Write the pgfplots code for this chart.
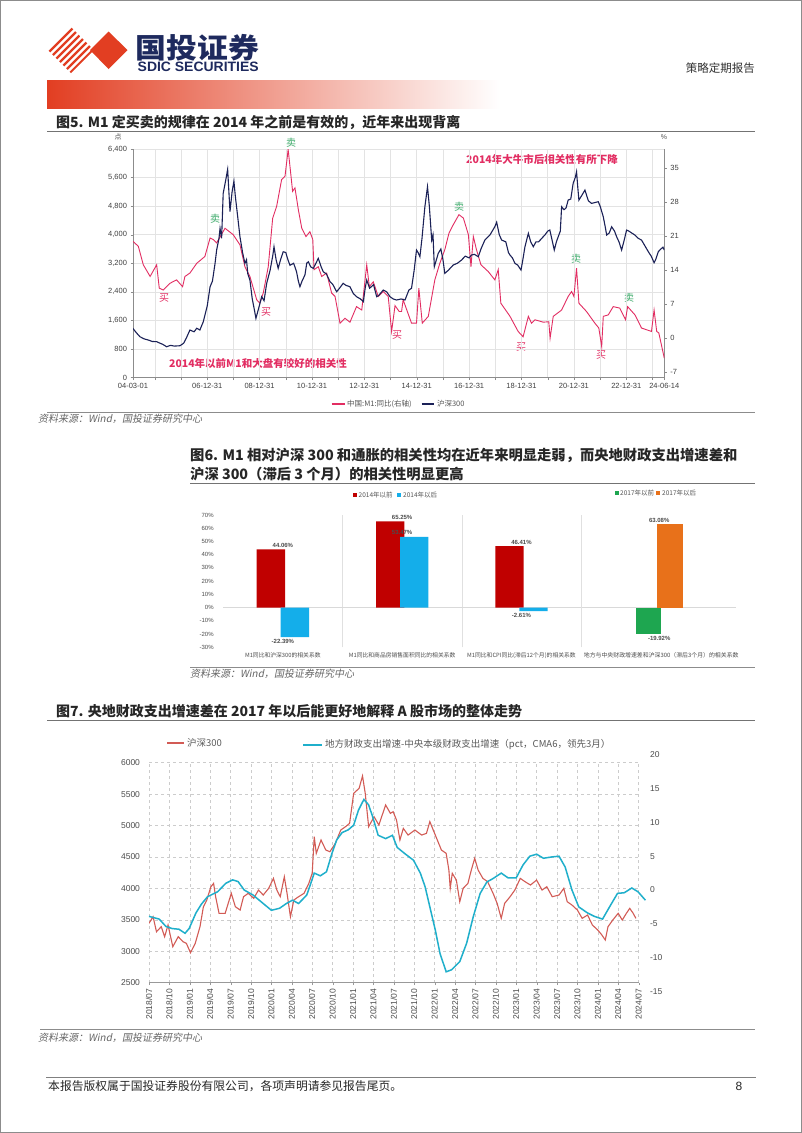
\documentclass[border=0pt]{standalone}
\usepackage{fontspec}
\setmainfont{Liberation Sans}
\newfontfamily\cjk{Noto Sans CJK SC}
\newfontfamily\cjksl{Noto Sans CJK SC}[FakeSlant=0.2]
\usepackage{graphicx}
\usepackage{pgfplots}
\pgfplotsset{compat=1.18}
\newcommand{\fs}[1]{\fontsize{#1}{#1}\selectfont}
\definecolor{logored}{HTML}{E23E22}
\definecolor{logonavy}{HTML}{1E2A5E}
\definecolor{m1red}{HTML}{E22D62}
\definecolor{csi}{HTML}{1B2157}
\definecolor{sellg}{HTML}{3DAA6A}
\definecolor{c6red}{HTML}{C00000}
\definecolor{c6blue}{HTML}{14AEEA}
\definecolor{c6green}{HTML}{1EA650}
\definecolor{c6orange}{HTML}{E8711A}
\definecolor{c7red}{HTML}{D25B55}
\definecolor{c7cyan}{HTML}{1FAFCB}
\definecolor{txt}{HTML}{555555}
\begin{document}
\begin{tikzpicture}
\path[fill=white] (0pt,0pt) rectangle (802pt,-1133pt);
\draw[black!45, line width=1pt] (0.5pt,-0.5pt) rectangle (801.5pt,-1132.5pt);
\begin{scope}[x=1pt,y=-1pt]
% logo
\begin{scope}
\clip (48,50) -- (71,27) -- (94,50) -- (71,73) -- cycle;
\foreach \a in {0,7,...,112} {\draw[logored, line width=2.4] (\a,80) -- (\a+60,20);}
\end{scope}
\fill[logored] (90,50) -- (108.5,31.5) -- (127.5,50) -- (108.5,69) -- cycle;
\node[anchor=base west, inner sep=0, font=\cjk\bfseries\fs{28}, text=logonavy] at (135.5,58) {\scalebox{1.1}[1]{国投证券}};
\node[anchor=west, inner sep=0, text=logonavy] at (137.5,67) {\resizebox{121pt}{9.5pt}{\bfseries SDIC SECURITIES}};
\node[anchor=east, inner sep=0, font=\cjk\fs{11.5}, text=black!80] at (755,68) {策略定期报告};
\shade[left color=logored, right color=white] (47,80) rectangle (500,108);
% titles and rules
\node[anchor=west, inner sep=0, font=\cjk\bfseries\fs{14}, text=black!85] at (56,122) {图5. M1 定买卖的规律在 2014 年之前是有效的，近年来出现背离};
\draw[black!55, line width=1.2] (47,131.5) -- (755,131.5);
\draw[black!45, line width=1] (47,412) -- (755,412);
\node[anchor=west, inner sep=0, font=\cjksl\fs{10}, text=black!60] at (38,419) {资料来源：Wind，国投证券研究中心};
\node[anchor=west, inner sep=0, font=\cjk\bfseries\fs{14.3}, text=black!85] at (190,455) {图6. M1 相对沪深 300 和通胀的相关性均在近年来明显走弱，而央地财政支出增速差和};
\node[anchor=west, inner sep=0, font=\cjk\bfseries\fs{14.3}, text=black!85] at (190,474.5) {沪深 300（滞后 3 个月）的相关性明显更高};
\draw[black!55, line width=1.2] (190,483.5) -- (755,483.5);
\draw[black!45, line width=1] (190,667.5) -- (755,667.5);
\node[anchor=west, inner sep=0, font=\cjksl\fs{10}, text=black!60] at (190,673.5) {资料来源：Wind，国投证券研究中心};
\node[anchor=west, inner sep=0, font=\cjk\bfseries\fs{14}, text=black!85] at (56,711) {图7. 央地财政支出增速差在 2017 年以后能更好地解释 A 股市场的整体走势};
\draw[black!55, line width=1.2] (47,720.5) -- (755,720.5);
\draw[black!45, line width=1] (40,1029.5) -- (755,1029.5);
\node[anchor=west, inner sep=0, font=\cjksl\fs{10}, text=black!60] at (38,1037.5) {资料来源：Wind，国投证券研究中心};
\draw[black!50, line width=1.3] (46,1077.5) -- (756,1077.5);
\node[anchor=west, inner sep=0, font=\cjk\fs{11.8}, text=black!85] at (48,1086) {本报告版权属于国投证券股份有限公司，各项声明请参见报告尾页。};
\node[inner sep=0, font=\fs{12}, text=black!85] at (739,1086) {8};
% chart 5 decorations
\node[inner sep=0, font=\cjk\fs{7}, text=txt] at (118,137) {点};
\node[inner sep=0, font=\fs{7}, text=txt] at (664,137) {\%};
\foreach \p in {(291,143),(215,219),(459,207),(576,259),(629,298)} {\node[inner sep=0, font=\cjk\fs{10}, text=sellg] at \p {卖};}
\foreach \p in {(164,298),(266,312),(397,335),(521,347),(601,355)} {\node[inner sep=0, font=\cjk\fs{10}, text=m1red] at \p {买};}
\node[inner sep=0, font=\cjk\bfseries\fs{10.5}, text=m1red] at (542,159) {2014年大牛市后相关性有所下降};
\node[inner sep=0, font=\cjk\bfseries\fs{10.5}, text=m1red] at (258,363) {2014年以前M1和大盘有较好的相关性};
\draw[m1red, line width=1.2] (331.5,404) -- (345,404);
\node[anchor=west, inner sep=0, font=\cjk\fs{7.5}, text=txt] at (347,404) {中国:M1:同比(右轴)};
\draw[csi, line width=1.4] (421.5,404) -- (434,404);
\node[anchor=west, inner sep=0, font=\cjk\fs{7.5}, text=txt] at (436.8,404) {沪深300};
% chart 6 legends
\fill[c6red] (353,492.7) rectangle +(4,4);
\node[anchor=west, inner sep=0, font=\cjk\fs{6.5}, text=txt] at (358.5,494.7) {2014年以前};
\fill[c6blue] (397.3,492.7) rectangle +(4,4);
\node[anchor=west, inner sep=0, font=\cjk\fs{6.5}, text=txt] at (403,494.7) {2014年以后};
\fill[c6green] (614.6,491) rectangle +(4,4);
\node[anchor=west, inner sep=0, font=\cjk\fs{6.5}, text=txt] at (620,493) {2017年以前};
\fill[c6orange] (656.4,491) rectangle +(4,4);
\node[anchor=west, inner sep=0, font=\cjk\fs{6.5}, text=txt] at (662,493) {2017年以后};
% chart 7 legend
\draw[c7red, line width=1.5] (167,743) -- (184,743);
\node[anchor=west, inner sep=0, font=\cjk\fs{9.5}, text=black!65] at (187,743) {沪深300};
\draw[c7cyan, line width=1.8] (303,745) -- (322,745);
\node[anchor=west, inner sep=0, font=\cjk\fs{9.5}, text=black!65] at (325,745) {地方财政支出增速-中央本级财政支出增速（pct，CMA6，领先3月）};
\end{scope}

% ================= Chart 5 =================
\begin{axis}[at={(133pt,-377.5pt)}, anchor=south west, scale only axis, width=531.3pt, height=228.5pt,
 xmin=2004.167, xmax=2024.45, ymin=0, ymax=6400,
 axis x line*=bottom, axis y line*=left,
 axis line style={draw=black!45, line width=0.6pt},
 ytick={0,800,...,6400}, scaled y ticks=false,
 xtick={2005,...,2024},
 xticklabels={{},{},06-12-31,{},08-12-31,{},10-12-31,{},12-12-31,{},14-12-31,{},16-12-31,{},18-12-31,{},20-12-31,{},22-12-31,{}},
 extra x ticks={2004.167,2024.45}, extra x tick labels={04-03-01,24-06-14}, extra x tick style={grid=none},
 grid=major, major grid style={draw=black!11, line width=0.5pt},
 tick align=outside, major tick length=2.5pt, tick style={draw=black!45},
 tick label style={font=\fs{7.5}, text=black!75},
 /pgf/number format/assume math mode=true]
\end{axis}
\begin{axis}[at={(133pt,-377.5pt)}, anchor=south west, scale only axis, width=531.3pt, height=228.5pt,
 xmin=2004.167, xmax=2024.45, ymin=-8.07, ymax=38.9,
 axis x line=none, axis y line*=right,
 axis line style={draw=black!45, line width=0.6pt},
 ytick={-7,0,...,35},
 tick align=outside, major tick length=2.5pt, tick style={draw=black!45},
 tick label style={font=\fs{7.5}, text=black!75},
 /pgf/number format/assume math mode=true]
\addplot[m1red, line width=0.9pt] coordinates {
(2004.17,19.9)(2004.37,18.9)(2004.56,15.1)(2004.82,12.7)(2005.07,15.1)(2005.17,10.3)(2005.32,9.9)(2005.58,11.3)(2005.83,12.0)(2006.06,10.6)(2006.15,12.7)(2006.34,13.4)(2006.60,15.4)(2006.91,16.8)(2007.11,20.6)(2007.23,20.3)(2007.36,19.6)(2007.68,22.6)(2007.99,21.3)(2008.25,19.2)(2008.44,14.7)(2008.63,12.7)(2008.89,7.9)(2009.01,7.2)(2009.14,9.3)(2009.33,14.7)(2009.50,24.7)(2009.65,27.1)(2009.84,32.6)(2009.97,33.3)(2010.09,38.8)(2010.16,35.3)(2010.26,30.2)(2010.35,30.9)(2010.48,26.4)(2010.61,22.6)(2010.77,20.9)(2010.92,21.9)(2011.03,20.3)(2011.08,14.1)(2011.24,14.7)(2011.37,12.7)(2011.56,13.4)(2011.75,9.3)(2011.88,8.6)(2012.07,3.1)(2012.26,4.1)(2012.45,3.3)(2012.70,6.5)(2012.90,5.8)(2013.09,15.1)(2013.19,10.6)(2013.34,11.6)(2013.53,8.6)(2013.72,9.6)(2013.91,8.6)(2014.04,1.4)(2014.17,6.7)(2014.33,5.5)(2014.42,5.5)(2014.48,7.9)(2014.80,3.1)(2014.99,3.1)(2015.08,10.3)(2015.21,3.1)(2015.44,4.5)(2015.69,12.0)(2015.88,15.4)(2016.07,18.2)(2016.23,21.6)(2016.39,23.3)(2016.61,25.4)(2016.78,24.7)(2016.97,21.3)(2017.07,14.7)(2017.16,20.9)(2017.28,18.2)(2017.45,15.1)(2017.73,13.7)(2017.98,12.0)(2018.11,14.1)(2018.21,7.2)(2018.56,4.5)(2018.87,1.4)(2019.06,0.3)(2019.26,4.5)(2019.38,3.1)(2019.51,3.8)(2019.83,3.3)(2020.04,3.4)(2020.09,0.0)(2020.21,4.5)(2020.53,5.8)(2020.78,8.6)(2020.91,9.6)(2021.00,8.6)(2021.10,14.4)(2021.19,7.2)(2021.48,5.5)(2021.80,3.1)(2021.95,2.1)(2022.06,-1.7)(2022.12,4.5)(2022.31,4.8)(2022.50,6.5)(2022.75,6.2)(2022.97,3.8)(2023.05,6.5)(2023.33,4.8)(2023.58,2.1)(2023.96,1.4)(2024.06,5.8)(2024.16,1.4)(2024.24,1.1)(2024.45,-4.1)};
\end{axis}
\begin{axis}[at={(133pt,-377.5pt)}, anchor=south west, scale only axis, width=531.3pt, height=228.5pt,
 xmin=2004.167, xmax=2024.45, ymin=0, ymax=6400, hide axis]
\addplot[csi, line width=1.1pt] coordinates {
(2004.16,1378)(2004.30,1250)(2004.43,1143)(2004.60,1080)(2004.75,1050)(2004.90,1010)(2005.07,1003)(2005.20,960)(2005.30,930)(2005.45,862)(2005.60,900)(2005.75,880)(2005.96,890)(2006.10,960)(2006.20,1100)(2006.34,1330)(2006.50,1280)(2006.60,1380)(2006.72,1330)(2006.85,1562)(2007.00,2000)(2007.11,2543)(2007.20,2700)(2007.30,3200)(2007.36,3570)(2007.45,3900)(2007.49,4177)(2007.55,3900)(2007.61,5157)(2007.70,5500)(2007.78,5830)(2007.82,5300)(2007.87,4650)(2007.95,5200)(2008.02,5500)(2008.07,5100)(2008.12,4783)(2008.18,4400)(2008.25,3943)(2008.35,3500)(2008.44,3197)(2008.50,3300)(2008.55,2900)(2008.63,2730)(2008.72,2200)(2008.80,1900)(2008.86,1657)(2008.95,1900)(2009.08,2263)(2009.17,2150)(2009.27,2637)(2009.40,3000)(2009.50,3400)(2009.55,3663)(2009.63,3300)(2009.71,3057)(2009.80,3300)(2009.90,3523)(2010.00,3500)(2010.08,3300)(2010.16,3143)(2010.30,3200)(2010.41,2963)(2010.48,2700)(2010.54,2543)(2010.62,2700)(2010.73,2870)(2010.80,3200)(2010.86,3243)(2010.95,3100)(2011.05,3057)(2011.15,3200)(2011.24,3337)(2011.35,3100)(2011.43,2963)(2011.55,2900)(2011.69,2683)(2011.80,2600)(2011.94,2403)(2012.05,2500)(2012.19,2637)(2012.30,2580)(2012.45,2543)(2012.58,2350)(2012.70,2263)(2012.85,2200)(2012.96,2123)(2013.03,2500)(2013.09,2730)(2013.20,2500)(2013.35,2600)(2013.47,2263)(2013.55,2300)(2013.72,2450)(2013.85,2400)(2013.98,2263)(2014.10,2200)(2014.23,2170)(2014.40,2200)(2014.55,2170)(2014.70,2450)(2014.80,2500)(2014.90,3000)(2014.99,3570)(2015.05,3500)(2015.12,3383)(2015.20,3900)(2015.31,4783)(2015.41,5343)(2015.48,4800)(2015.57,3850)(2015.62,4000)(2015.67,3103)(2015.75,3300)(2015.82,3477)(2015.92,3600)(2016.00,3300)(2016.07,2917)(2016.20,3000)(2016.39,3150)(2016.55,3200)(2016.71,3290)(2016.85,3400)(2017.00,3350)(2017.09,3430)(2017.20,3450)(2017.35,3383)(2017.45,3600)(2017.60,3850)(2017.80,4000)(2017.98,4223)(2018.05,4350)(2018.15,4000)(2018.24,3850)(2018.40,3800)(2018.50,3500)(2018.56,3430)(2018.65,3350)(2018.75,3197)(2018.85,3150)(2018.98,3010)(2019.05,3300)(2019.13,3663)(2019.26,4037)(2019.35,3800)(2019.45,3663)(2019.55,3800)(2019.65,3800)(2019.77,3897)(2019.90,4000)(2020.00,4100)(2020.08,4130)(2020.15,3900)(2020.25,3570)(2020.33,3800)(2020.40,3943)(2020.48,4100)(2020.53,4783)(2020.62,4700)(2020.70,4750)(2020.78,4970)(2020.88,5000)(2020.97,5437)(2021.05,5600)(2021.10,5763)(2021.15,5300)(2021.19,4970)(2021.30,5100)(2021.42,5250)(2021.55,4950)(2021.67,4877)(2021.80,4900)(2021.93,4923)(2022.00,4800)(2022.12,4503)(2022.20,4200)(2022.25,3990)(2022.35,4050)(2022.44,4223)(2022.55,4100)(2022.63,3943)(2022.72,3800)(2022.82,3570)(2022.92,3850)(2023.01,4130)(2023.10,4100)(2023.20,4050)(2023.33,3990)(2023.45,3900)(2023.58,3850)(2023.70,3700)(2023.84,3523)(2023.95,3400)(2024.06,3215)(2024.12,3300)(2024.22,3523)(2024.32,3600)(2024.40,3650)(2024.45,3570)};
\end{axis}

% ================= Chart 6 =================
\begin{axis}[at={(223.2pt,-647.3pt)}, anchor=south west, scale only axis, width=357.9pt, height=132.3pt,
 xmin=-0.5, xmax=2.5, ymin=-30, ymax=70,
 axis line style={draw=none}, major tick length=0pt, minor tick length=0pt,
 xtick={0,1,2},
 xticklabels={M1同比和沪深300的相关系数,M1同比和商品房销售面积同比的相关系数,M1同比和CPI同比(滞后12个月)的相关系数},
 minor xtick={0.5,1.5,2.5}, xminorgrids=true, minor grid style={draw=black!12, line width=0.6pt},
 ytick={-30,-20,...,70}, yticklabel={\pgfmathprintnumber{\tick}\%},
 extra y ticks={0}, extra y tick labels={}, extra y tick style={grid=major},
 major grid style={draw=black!15, line width=0.8pt},
 tick label style={font=\fs{6}, text=black!70},
 yticklabel style={xshift=-6pt},
 xticklabel style={font=\cjk\fs{5.8}, text=black!70, yshift=-2pt},
 /pgf/number format/assume math mode=true,
 every node near coord/.append style={font=\bfseries\fs{6}, text=black!70, inner sep=1.8pt},
 nodes near coords={\pgfmathprintnumber[fixed,fixed zerofill,precision=2]{\pgfplotspointmeta}\%},
 nodes near coords align=vertical]
\addplot[ybar, bar width=28.3pt, bar shift=-12pt, fill=c6red, draw=none] coordinates {(0,44.06)(1,65.25)(2,46.41)};
\addplot[ybar, bar width=28.3pt, bar shift=12pt, fill=c6blue, draw=none] coordinates {(0,-22.39)(1,53.47)(2,-2.61)};
\end{axis}
\begin{axis}[at={(582pt,-647.3pt)}, anchor=south west, scale only axis, width=154.4pt, height=132.3pt,
 xmin=-0.5, xmax=0.5, ymin=-30, ymax=70,
 axis line style={draw=none}, major tick length=0pt,
 xtick={0}, xticklabels={地方与中央财政增速差和沪深300（滞后3个月）的相关系数},
 ytick=\empty,
 extra y ticks={0}, extra y tick labels={}, extra y tick style={grid=major},
 major grid style={draw=black!15, line width=0.8pt},
 xticklabel style={font=\cjk\fs{5.9}, text=black!70, yshift=-2pt, xshift=2pt},
 /pgf/number format/assume math mode=true,
 every node near coord/.append style={font=\bfseries\fs{6}, text=black!70, inner sep=1.8pt},
 nodes near coords={\pgfmathprintnumber[fixed,fixed zerofill,precision=2]{\pgfplotspointmeta}\%},
 nodes near coords align=vertical]
\addplot[ybar, bar width=25.5pt, bar shift=-10.7pt, fill=c6green, draw=none] coordinates {(0,-19.92)};
\addplot[ybar, bar width=25.5pt, bar shift=10.7pt, fill=c6orange, draw=none] coordinates {(0,63.08)};
\end{axis}

% ================= Chart 7 =================
\begin{axis}[at={(149pt,-982.7pt)}, anchor=south west, scale only axis, width=489.6pt, height=220pt,
 xmin=0, xmax=72, ymin=2500, ymax=6000,
 axis x line*=bottom, axis y line*=left,
 x axis line style={draw=black!40, line width=0.7pt},
 y axis line style={draw=none},
 xtick={0,3,...,72},
 xticklabels={2018/07,2018/10,2019/01,2019/04,2019/07,2019/10,2020/01,2020/04,2020/07,2020/10,2021/01,2021/04,2021/07,2021/10,2022/01,2022/04,2022/07,2022/10,2023/01,2023/04,2023/07,2023/10,2024/01,2024/04,2024/07},
 ytick={2500,3000,...,6000}, scaled y ticks=false,
 grid=major, major grid style={draw=black!20, dashed, line width=0.5pt},
 tick align=outside, major tick length=2.5pt,
 xtick style={draw=black!40}, ytick style={draw=none},
 tick label style={font=\fs{8.5}, text=black!70},
 xticklabel style={rotate=90, anchor=east},
 yticklabel style={xshift=-3pt},
 /pgf/number format/assume math mode=true, /pgf/number format/1000 sep={}]
\addplot[c7red, line width=1.1pt] coordinates {
(0,3445)(0.6,3550)(1.1,3311)(1.8,3391)(2.3,3232)(2.8,3418)(3.5,3073)(4.3,3232)(5.0,3152)(5.5,3126)(6.1,2977)(6.8,3126)(7.5,3391)(8.0,3709)(8.5,3816)(9.1,4027)(9.5,4080)(9.8,3868)(10.3,3604)(11.2,3604)(12.1,3922)(12.7,3709)(13.4,3656)(13.9,3868)(14.6,3922)(15.4,3842)(16.1,3974)(16.8,3895)(17.6,4001)(18.3,4160)(18.8,3974)(19.3,3868)(19.9,4186)(20.3,3922)(20.8,3550)(21.3,3816)(22.0,3868)(22.8,3922)(23.5,4080)(24.0,4240)(24.3,4823)(24.6,4558)(25.3,4770)(26.0,4611)(26.6,4584)(27.4,4717)(28.2,4929)(28.9,4982)(29.5,5036)(30.1,5513)(30.9,5593)(31.4,5789)(31.8,5513)(32.3,4982)(33.1,5141)(33.8,5009)(34.8,5327)(35.5,5194)(35.9,5221)(36.4,5088)(36.9,4770)(37.4,4955)(38.1,4849)(39.1,4929)(40.1,4849)(40.8,4876)(41.3,5062)(42.0,4876)(43.0,4611)(43.7,4558)(44.1,4293)(44.3,4002)(44.6,4240)(45.2,4133)(45.7,3789)(46.2,4001)(46.9,4080)(47.4,4293)(47.9,4479)(48.4,4293)(49.1,4160)(49.8,4107)(50.6,3922)(51.2,3762)(51.8,3524)(52.3,3762)(53.1,3868)(53.8,3974)(54.6,4160)(55.3,4107)(56.1,4054)(57.0,4133)(57.8,3974)(58.5,4027)(59.3,3868)(60.3,3895)(61.0,4001)(61.5,3789)(62.2,3736)(63.0,3656)(63.7,3524)(64.5,3577)(65.2,3418)(66.0,3338)(66.6,3259)(67.1,3179)(67.5,3391)(68.2,3497)(69.0,3604)(69.6,3497)(70.2,3604)(70.7,3683)(71.2,3604)(71.6,3524)};
\end{axis}
\begin{axis}[at={(149pt,-991.4pt)}, anchor=south west, scale only axis, width=489.6pt, height=236.6pt,
 xmin=0, xmax=72, ymin=-15, ymax=20, clip=false,
 axis x line=none, axis y line*=right,
 y axis line style={draw=none}, ytick style={draw=none},
 ytick={-15,-10,...,20},
 tick label style={font=\fs{8.5}, text=black!70},
 yticklabel style={xshift=8pt},
 /pgf/number format/assume math mode=true]
\addplot[c7cyan, line width=1.5pt] coordinates {
(0,-3.9)(1.5,-4.3)(2.5,-5.4)(3.4,-5.7)(4.4,-5.8)(5.3,-6.4)(5.9,-5.7)(6.9,-3.4)(7.7,-2.1)(8.6,-1.0)(10.1,-0.25)(11.3,1.0)(12.3,1.5)(13.1,1.25)(14.0,0)(15.3,-0.74)(16.8,-2.0)(18.0,-3.0)(19.2,-2.7)(20.2,-2.0)(21.1,-1.5)(22.0,-2.0)(23.2,-0.74)(23.8,1.0)(24.3,2.5)(25.2,2.1)(26.1,2.7)(26.9,5.4)(27.6,7.4)(28.4,8.5)(29.3,8.9)(30.1,9.6)(30.8,11.8)(31.6,13.4)(32.3,12.6)(32.9,10.8)(33.7,8.1)(34.8,7.6)(35.8,8.1)(36.5,6.3)(37.6,5.4)(38.9,4.4)(39.9,2.5)(40.6,0.5)(41.3,-2.5)(42.1,-5.9)(42.8,-9.4)(43.7,-12.1)(44.5,-11.8)(45.7,-10.6)(46.7,-7.9)(47.7,-3.9)(48.7,-0.5)(49.7,1.2)(50.6,1.7)(51.8,2.5)(52.8,1.8)(54.0,1.8)(55.0,3.7)(56.0,5.0)(57.0,5.3)(58.0,4.7)(59.3,4.9)(60.3,5.0)(61.2,3.4)(62.2,0)(63.2,-2.5)(64.5,-3.4)(65.5,-3.9)(66.7,-4.3)(67.9,-2.2)(68.9,-0.5)(69.9,-0.4)(71.0,0.3)(71.9,-0.25)(73.0,-1.5)};
\end{axis}
\end{tikzpicture}
\end{document}
